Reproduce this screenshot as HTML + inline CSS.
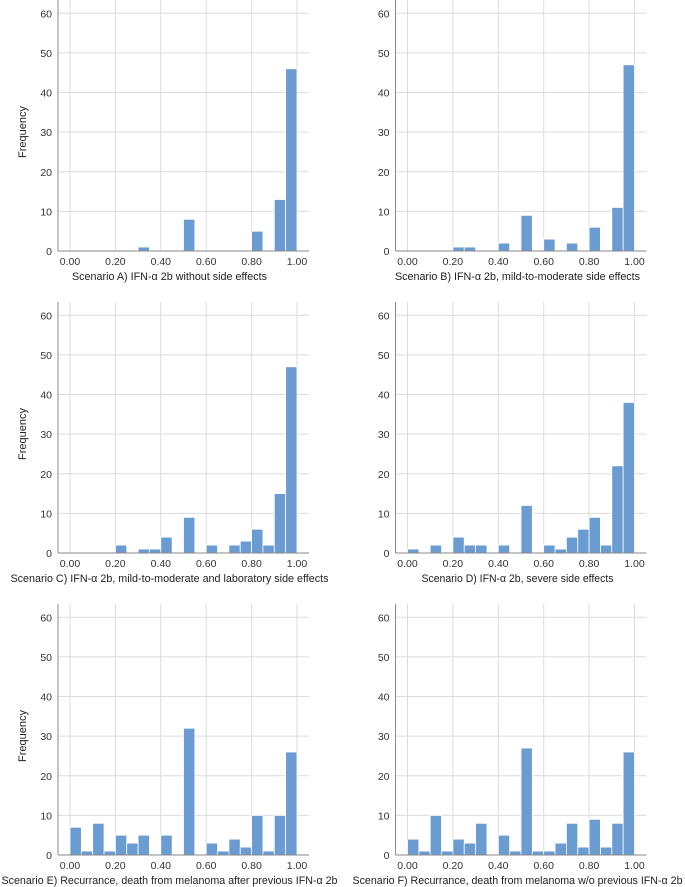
<!DOCTYPE html>
<html><head><meta charset="utf-8"><style>
body{margin:0;background:#fff;}
svg{display:block;font-family:"Liberation Sans","DejaVu Sans",sans-serif;}
</style></head><body>
<svg id="chart" width="685" height="887"></svg>
<script>
const binStarts = [0,0.05,0.1,0.15,0.2,0.25,0.3,0.35,0.4,0.45,0.5,0.55,0.6,0.65,0.7,0.75,0.8,0.85,0.9,0.95];
const freqA = [0,0,0,0,0,0,1,0,0,0,8,0,0,0,0,0,5,0,13,46];
const freqB = [0,0,0,0,1,1,0,0,2,0,9,0,3,0,2,0,6,0,11,47];
const freqC = [0,0,0,0,2,0,1,1,4,0,9,0,2,0,2,3,6,2,15,47];
const freqD = [1,0,2,0,4,2,2,0,2,0,12,0,2,1,4,6,9,2,22,38];
const freqE = [7,1,8,1,5,3,5,0,5,0,32,0,3,1,4,2,10,1,10,26];
const freqF = [4,1,10,1,4,3,8,0,5,1,27,1,1,3,8,2,9,2,8,26];
const xTicks = [0,0.2,0.4,0.6,0.8,1.0];
const yTicks = [0,10,20,30,40,50,60];
const titles = ["Scenario A) IFN-\u03b1 2b without side effects","Scenario B) IFN-\u03b1 2b, mild-to-moderate side effects","Scenario C) IFN-\u03b1 2b, mild-to-moderate and laboratory side effects","Scenario D) IFN-\u03b1 2b, severe side effects","Scenario E) Recurrance, death from melanoma after previous IFN-\u03b1 2b","Scenario F) Recurrance, death from melanoma w/o previous IFN-\u03b1 2b"];
const titleWidths = [195,245,318,192,336,330];
const series = [freqA,freqB,freqC,freqD,freqE,freqF];
const names = ['a','b','c','d','e','f'];

const svg = document.getElementById('chart');
const NS = 'http://www.w3.org/2000/svg';
function mk(tag, attrs, parent){const e=document.createElementNS(NS,tag);for(const k in attrs)e.setAttribute(k,attrs[k]);parent.appendChild(e);return e;}

series.forEach((data,i)=>{
  const col=i%2,row=Math.floor(i/2);
  const ox=col*337.5, oy=row*302;
  const g=mk('g',{transform:`translate(${ox},${oy})`},svg);
  
  
  const x=v=>70+v*227;
  const y=v=>251-v*237.7/60;
  const left=58,right=309,top=0,bottom=251;
  yTicks.forEach(t=>{
    if(t>0){const l=mk('line',{x1:left,x2:right,y1:y(t),y2:y(t),stroke:'#dcdcdc','stroke-width':1},g);
    
    }
    const tx=mk('text',{x:left-6,y:y(t)+4,'text-anchor':'end','font-size':'10.5',fill:'#333'},g);
    tx.textContent=t;
    
    
  });
  xTicks.forEach(t=>{
    const l=mk('line',{x1:x(t),x2:x(t),y1:top,y2:bottom,stroke:'#dcdcdc','stroke-width':1},g);
    
    
    const tx=mk('text',{x:x(t),y:bottom+14,'text-anchor':'middle','font-size':'10.5',fill:'#333'},g);
    tx.textContent=t.toFixed(2);
    
    
  });
  data.forEach((v,j)=>{
    if(v<=0)return;
    const b=mk('rect',{x:x(binStarts[j]),y:y(v),width:x(binStarts[j]+0.05)-x(binStarts[j]),height:y(0)-y(v),fill:'#6a9bd1',stroke:'#fff','stroke-width':0.8},g);
    
    
  });
  const ax=mk('line',{x1:left,x2:left,y1:top,y2:bottom,stroke:'#8a8a8a','stroke-width':1},g);
  
  
  const bx=mk('line',{x1:left,x2:right,y1:bottom,y2:bottom,stroke:'#8a8a8a','stroke-width':1},g);
  
  
  const cx = col===0 ? 169.5 : 180;
  const tt=mk('text',{x:cx,y:bottom+29,'text-anchor':'middle','font-size':'11',fill:'#222',textLength:titleWidths[i],lengthAdjust:'spacingAndGlyphs'},g);
  tt.textContent=titles[i];
  
  
  if(col===0){
    const fy=mk('text',{x:0,y:0,transform:`translate(26,132) rotate(-90)`,'text-anchor':'middle','font-size':'11',fill:'#222'},g);
    fy.textContent='Frequency';
    
    
  }
});
</script>
</body></html>
